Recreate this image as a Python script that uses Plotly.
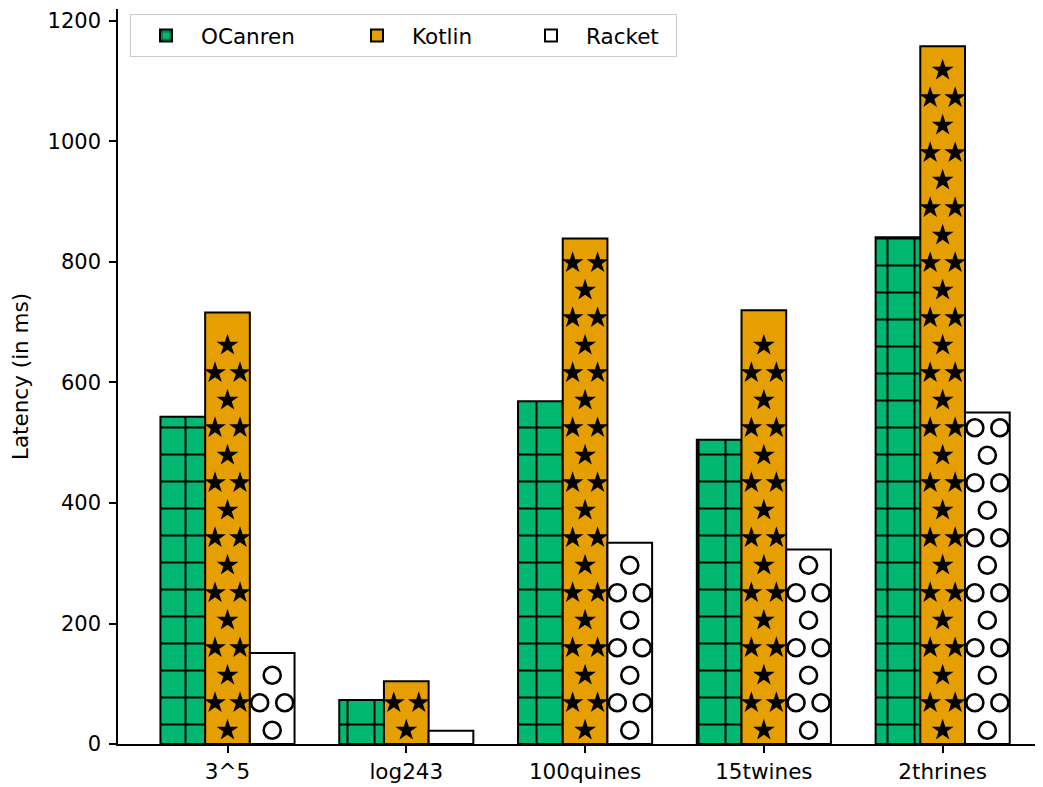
import plotly.graph_objects as go

# ---- data ----
categories = ["3^5", "log243", "100quines", "15twines", "2thrines"]
ocanren = [543, 73, 569, 505, 841]
kotlin = [716, 104, 839, 720, 1158]
racket = [151, 22, 334, 323, 550]
series_names = ["OCanren", "Kotlin", "Racket"]
yticks = [0, 200, 400, 600, 800, 1000, 1200]

# ---- style / layout ----
# page body has an 8px margin, so the figure is sized/margined to compensate
W, H = 1035, 779
ML, MR, MT, MB = 110, 3, 1, 43
XR = [-0.6125, 4.5445]
YR = [0, 1219.9]
BAR_W = 0.25
GREEN, ORANGE, WHITE = "#00b870", "#e69f00", "#ffffff"
FONT = "DejaVu Sans"
FS = 21.5

plot_w = W - ML - MR
plot_h = H - MT - MB
PX_X = plot_w / (XR[1] - XR[0])
PX_Y = plot_h / (YR[1] - YR[0])


def hatch_points(values, offset, top_ext, step=27.5, half=12.5):
    """Staggered hatch lattice inside each bar (pixel spacing -> data units)."""
    xs, ys = [], []
    for i, v in enumerate(values):
        cx = i + offset
        h = v * PX_Y
        k = 0
        yc = step / 2
        while yc + top_ext <= h:
            rel = [0.0] if k % 2 == 0 else [-half, half]
            for r in rel:
                xs.append(cx + r / PX_X)
                ys.append(yc / PX_Y)
            k += 1
            yc += step
    return xs, ys


x_idx = list(range(len(categories)))

fig = go.Figure()
fig.add_trace(go.Bar(
    x=x_idx, y=ocanren, name=series_names[0], legendwidth=136,
    marker=dict(color=GREEN, line=dict(color="black", width=2),
                pattern=dict(shape="+", fgcolor="black", bgcolor=GREEN,
                             size=27, solidity=0.14, fillmode="replace")),
    hoverinfo="skip",
))
fig.add_trace(go.Bar(
    x=x_idx, y=kotlin, name=series_names[1], legendwidth=99,
    marker=dict(color=ORANGE, line=dict(color="black", width=2)),
    hoverinfo="skip",
))
fig.add_trace(go.Bar(
    x=x_idx, y=racket, name=series_names[2], legendwidth=85,
    marker=dict(color=WHITE, line=dict(color="black", width=2)),
    hoverinfo="skip",
))

# star hatch on Kotlin bars
sx, sy = hatch_points(kotlin, 0.0, 12)
fig.add_trace(go.Scatter(
    x=sx, y=sy, mode="markers", showlegend=False, hoverinfo="skip",
    marker=dict(symbol="star", size=16.5, color="black", line=dict(width=0)),
))
# circle hatch on Racket bars
cx_, cy_ = hatch_points(racket, BAR_W, 11)
fig.add_trace(go.Scatter(
    x=cx_, y=cy_, mode="markers", showlegend=False, hoverinfo="skip",
    marker=dict(symbol="circle-open", size=17, color="black",
                line=dict(width=2.6, color="black")),
))

fig.update_layout(
    width=W, height=H,
    margin=dict(l=ML, r=MR, t=MT, b=MB, autoexpand=False),
    paper_bgcolor="white", plot_bgcolor="white",
    barmode="group", bargap=0.25, bargroupgap=0,
    font=dict(family=FONT, size=FS, color="black"),
    showlegend=True,
    legend=dict(
        orientation="h", x=0.013, y=0.993, xanchor="left", yanchor="top",
        bordercolor="#cccccc", borderwidth=1, bgcolor="white",
        font=dict(family=FONT, size=FS, color="black"),
        itemwidth=60, entrywidthmode="pixels", traceorder="normal",
    ),
    xaxis=dict(
        range=XR, tickmode="array", tickvals=x_idx, ticktext=categories,
        showline=True, linecolor="black", linewidth=1.5, mirror=False,
        ticks="outside", ticklen=7, tickwidth=1.5, tickcolor="black",
        showgrid=False, zeroline=False, ticklabeloverflow="allow",
        tickfont=dict(family=FONT, size=FS, color="black"),
    ),
    yaxis=dict(
        range=YR, tickmode="array", tickvals=yticks,
        ticktext=[str(t) for t in yticks],
        showline=True, linecolor="black", linewidth=1.5, mirror=False,
        ticks="outside", ticklen=7, tickwidth=1.5, tickcolor="black",
        ticklabelstandoff=4, ticklabeloverflow="allow",
        showgrid=False, zeroline=False,
        tickfont=dict(family=FONT, size=21, color="black"),
        title=dict(text="Latency (in ms)", standoff=14,
                   font=dict(family=FONT, size=FS, color="black")),
    ),
)

fig.write_html("out.html")
